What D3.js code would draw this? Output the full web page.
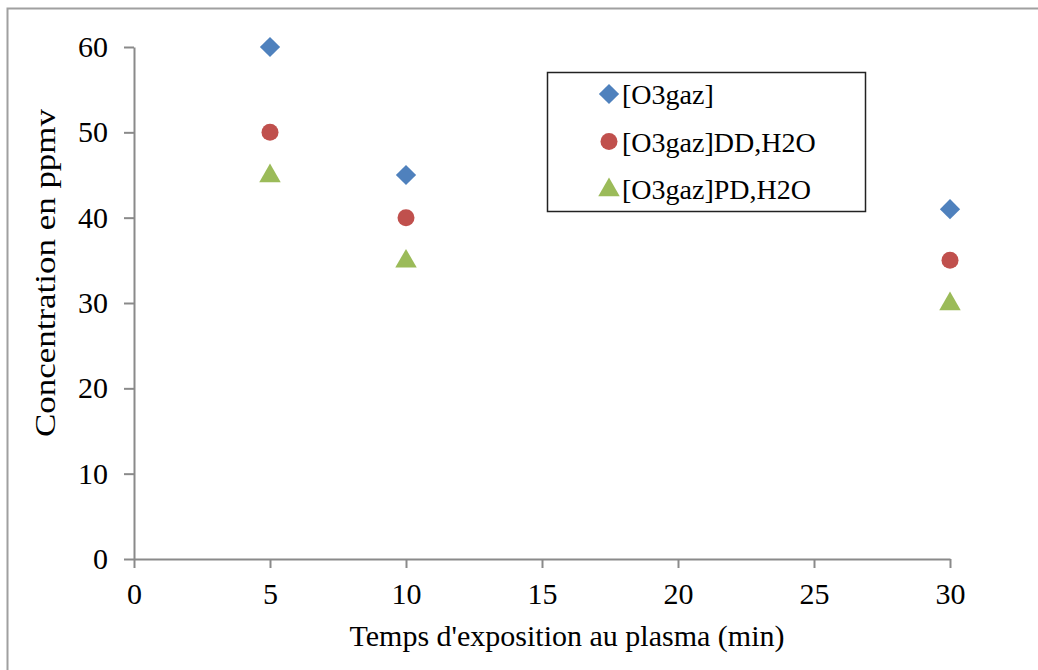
<!DOCTYPE html>
<html><head><meta charset="utf-8">
<script src="https://cdn.jsdelivr.net/npm/d3@7"></script>
<style>html,body{margin:0;padding:0;background:#fff;overflow:hidden}</style>
</head><body>
<script>
const times = [5, 10, 30];
const seriesNames = ["[O3gaz]", "[O3gaz]DD,H2O", "[O3gaz]PD,H2O"];
const o3gaz = [60, 45, 41];
const o3gazDD = [50, 40, 35];
const o3gazPD = [45, 35, 30];
const xTicks = [0, 5, 10, 15, 20, 25, 30];
const yTicks = [0, 10, 20, 30, 40, 50, 60];
const xTitle = "Temps d'exposition au plasma (min)";
const yTitle = "Concentration en ppmv";

const W = 1038, H = 670;
const font = "'Liberation Serif','Times New Roman',serif";
const svg = d3.select("body").append("svg").attr("width", W).attr("height", H);
svg.append("rect").attr("width", W).attr("height", H).attr("fill", "#fff");
svg.append("rect").attr("x", 7.5).attr("y", 8.5).attr("width", 1200).attr("height", 900)
  .attr("fill", "none").attr("stroke", "#a0a0a0").attr("stroke-width", 2);

const x = d3.scaleLinear().domain([0, 30]).range([134, 950]);
const y = d3.scaleLinear().domain([0, 60]).range([559, 47]);
const axisColor = "#8a8a8a";

const gx = svg.append("g").attr("transform", `translate(0,${y(0)})`)
  .call(d3.axisBottom(x).tickValues(xTicks).tickSize(9).tickPadding(15).tickSizeOuter(0));
const gy = svg.append("g").attr("transform", `translate(${x(0)},0)`)
  .call(d3.axisLeft(y).tickValues(yTicks).tickSize(10).tickPadding(16).tickSizeOuter(0));
[gx, gy].forEach(g => {
  g.select(".domain").attr("stroke", axisColor).attr("stroke-width", 2);
  g.selectAll(".tick line").attr("stroke", axisColor).attr("stroke-width", 2);
  g.selectAll(".tick text").attr("fill", "#000").style("font-family", font).style("font-size", "30px");
});

svg.append("text").attr("x", 567).attr("y", 646).attr("text-anchor", "middle")
  .style("font-family", font).style("font-size", "30px").attr("fill", "#000")
  .attr("textLength", 435).attr("lengthAdjust", "spacingAndGlyphs").text(xTitle);
svg.append("text").attr("transform", `translate(55,273) rotate(-90)`).attr("text-anchor", "middle")
  .style("font-family", font).style("font-size", "30px").attr("fill", "#000")
  .attr("textLength", 328).attr("lengthAdjust", "spacingAndGlyphs").text(yTitle);

const colors = ["#4F81BD", "#C0504D", "#9BBB59"];
function marker(sel, i, cx, cy) {
  let p;
  if (i === 0) {
    p = d3.symbol().type(d3.symbolSquare).size(205)();
    sel.append("path").attr("d", p).attr("fill", colors[i])
      .attr("transform", `translate(${cx},${cy}) rotate(45)`);
  } else if (i === 1) {
    sel.append("circle").attr("cx", cx).attr("cy", cy).attr("r", 8.5).attr("fill", colors[i]);
  } else {
    p = d3.symbol().type(d3.symbolTriangle).size(200)();
    sel.append("path").attr("d", p).attr("fill", colors[i])
      .attr("transform", `translate(${cx},${cy+1})`);
  }
}
const allSeries = [o3gaz, o3gazDD, o3gazPD];
const gm = svg.append("g");
allSeries.forEach((vals, i) => {
  vals.forEach((v, j) => marker(gm, i, x(times[j]), y(v)));
});

// legend
const lg = svg.append("g");
lg.append("rect").attr("x", 547.5).attr("y", 72.5).attr("width", 318).attr("height", 139)
  .attr("fill", "#fff").attr("stroke", "#222").attr("stroke-width", 1.5);
seriesNames.forEach((n, i) => {
  const cy = 94 + i * 47.5;
  marker(lg, i, 609, cy);
  lg.append("text").attr("x", 622).attr("y", cy + 10).style("font-family", font)
    .style("font-size", "28px").attr("fill", "#000").text(n);
});
</script>
</body></html>
